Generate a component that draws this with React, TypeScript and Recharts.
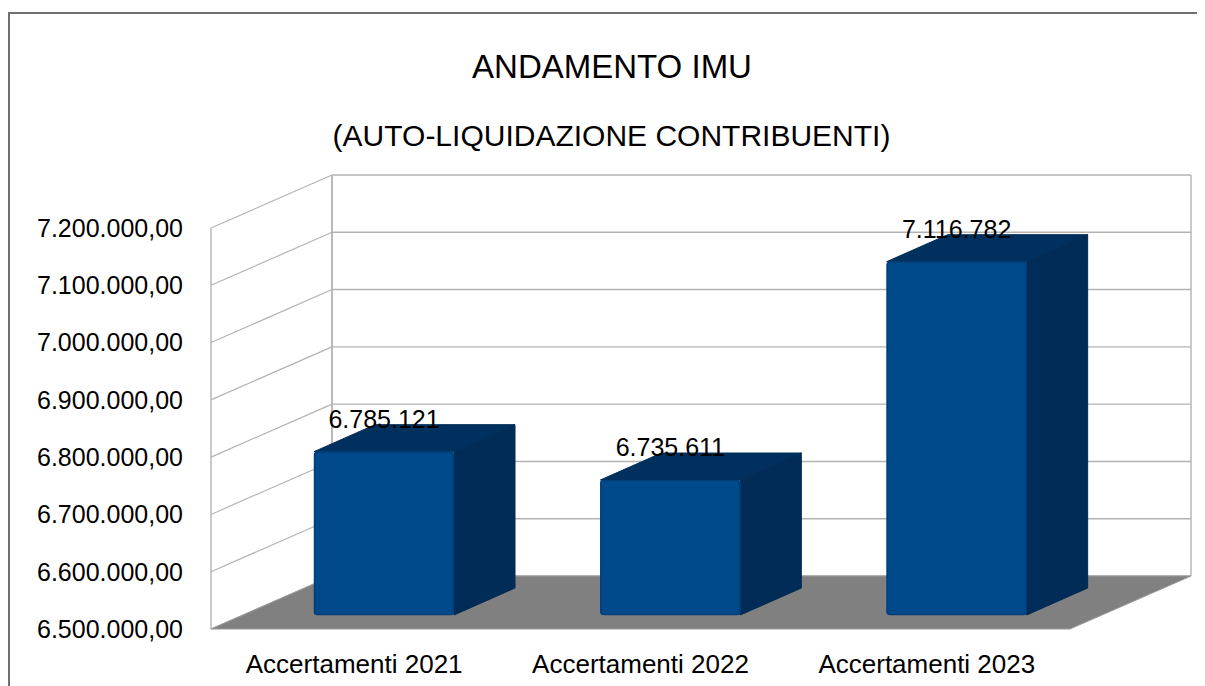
import React from 'react';
import { BarChart, Bar, XAxis, YAxis, CartesianGrid, ReferenceArea, LabelList } from 'recharts';

const categories = ['Accertamenti 2021', 'Accertamenti 2022', 'Accertamenti 2023'];
const values = [6785121, 6735611, 7116782];
const yTicks = [6500000, 6600000, 6700000, 6800000, 6900000, 7000000, 7100000, 7200000];
const titleText = 'ANDAMENTO IMU';
const subtitleText = '(AUTO-LIQUIDAZIONE CONTRIBUENTI)';

const data = categories.map((name, i) => ({ name, value: values[i] }));

// 3D geometry
const WALL_DX = 121;
const WALL_DY = -53;
const FRONT_DX = 30;
const FRONT_DY = -14;
const DEPTH_DX = 61;
const DEPTH_DY = -27;
const GRID = '#b3b3b3';
const FONT = '"Liberation Sans", Arial, sans-serif';

const groupThousands = (n: number) => {
  const s = Math.round(Math.abs(n)).toString();
  return s.replace(/\B(?=(\d{3})+(?!\d))/g, '.');
};
const fmtTick = (v: number) => `${groupThousands(v)},00`;
const fmtLabel = (v: number) => groupThousands(v);

const GridLine = (props: any) => {
  const { x1, y1, x2 } = props;
  const bx = x1 + WALL_DX;
  const by = y1 + WALL_DY;
  const w = x2 - x1;
  return (
    <g key={props.key}>
      <line x1={x1} y1={y1} x2={bx} y2={by} stroke={GRID} strokeWidth={1.2} />
      <line x1={bx} y1={by} x2={bx + w} y2={by} stroke={GRID} strokeWidth={1.4} />
    </g>
  );
};

const Frame = (props: any) => {
  const { x, y, width, height } = props;
  const b = y + height;
  return (
    <g>
      <line x1={x} y1={y} x2={x} y2={b} stroke={GRID} strokeWidth={1.4} />
      <line x1={x + WALL_DX} y1={y + WALL_DY} x2={x + WALL_DX} y2={b + WALL_DY} stroke={GRID} strokeWidth={1.8} />
      <line x1={x + width + WALL_DX} y1={y + WALL_DY} x2={x + width + WALL_DX} y2={b + WALL_DY} stroke={GRID} strokeWidth={1.4} />
      <polygon
        points={`${x},${b} ${x + width},${b} ${x + width + WALL_DX},${b + WALL_DY} ${x + WALL_DX},${b + WALL_DY}`}
        fill="#808080"
        stroke="#9a9a9a"
        strokeWidth={1}
      />
    </g>
  );
};

const Box = (props: any) => {
  const { x, y, width, height } = props;
  const fx = x + FRONT_DX;
  const ft = y + FRONT_DY;
  const fb = y + height + FRONT_DY;
  const w = width;
  const top = `${fx},${ft} ${fx + DEPTH_DX},${ft + DEPTH_DY} ${fx + w + DEPTH_DX},${ft + DEPTH_DY} ${fx + w},${ft}`;
  const side = `${fx + w},${ft} ${fx + w + DEPTH_DX},${ft + DEPTH_DY} ${fx + w + DEPTH_DX},${fb + DEPTH_DY} ${fx + w},${fb}`;
  return (
    <g>
      <polygon points={side} fill="#002c57" stroke="#002a52" strokeWidth={1} strokeLinejoin="round" />
      <polygon points={top} fill="#00305d" stroke="#002d58" strokeWidth={1} strokeLinejoin="round" />
      <rect x={fx} y={ft} width={w} height={fb - ft} rx={3} ry={3} fill="#00498b" />
      <rect x={fx + 0.5} y={ft + 0.5} width={w - 1} height={fb - ft - 1} rx={3} ry={3} fill="none" stroke="#003f7a" strokeWidth={1.5} />
    </g>
  );
};

const ValueLabel = (props: any) => {
  const { x, y, width, value } = props;
  return (
    <text
      x={x + width / 2 + FRONT_DX}
      y={y + FRONT_DY + DEPTH_DY + 3}
      textAnchor="middle"
      fontSize={25}
      fontFamily={FONT}
      fill="#000"
    >
      {fmtLabel(value)}
    </text>
  );
};

export default function App() {
  return (
    <div style={{ paddingTop: 4, fontFamily: FONT }}>
      <div
        style={{
          position: 'relative',
          width: 1197,
          height: 672,
          borderTop: '2px solid #707070',
          borderLeft: '2px solid #707070',
          overflow: 'hidden',
        }}
      >
        <div
          style={{
            position: 'absolute',
            left: 0,
            width: 1204,
            top: 36,
            textAlign: 'center',
            fontSize: 33,
            lineHeight: '33px',
            color: '#000',
            whiteSpace: 'nowrap',
          }}
        >
          {titleText}
        </div>
        <div
          style={{
            position: 'absolute',
            left: 0,
            width: 1203,
            top: 107,
            textAlign: 'center',
            fontSize: 30,
            lineHeight: '30px',
            color: '#000',
            whiteSpace: 'nowrap',
          }}
        >
          {subtitleText}
        </div>
        <BarChart
          width={1195}
          height={672}
          data={data}
          margin={{ top: 214, right: 135, bottom: 7, left: 0 }}
        >
          <CartesianGrid vertical={false} horizontal={GridLine as any} />
          <ReferenceArea y1={6500000} y2={7200000} shape={Frame as any} fill="none" stroke="none" />
          <XAxis
            dataKey="name"
            axisLine={false}
            tickLine={false}
            tickSize={0}
            tickMargin={26}
            height={50}
            interval={0}
            tick={{ fontSize: 26, fill: '#000', fontFamily: FONT }}
          />
          <YAxis
            domain={[6500000, 7200000]}
            ticks={yTicks}
            axisLine={false}
            tickLine={false}
            tickSize={0}
            tickMargin={28}
            width={201}
            interval={0}
            tickFormatter={fmtTick}
            tick={{ fontSize: 25, fill: '#000', fontFamily: FONT }}
          />
          <Bar dataKey="value" barSize={140} isAnimationActive={false} shape={Box as any}>
            <LabelList dataKey="value" content={ValueLabel as any} />
          </Bar>
        </BarChart>
      </div>
    </div>
  );
}
